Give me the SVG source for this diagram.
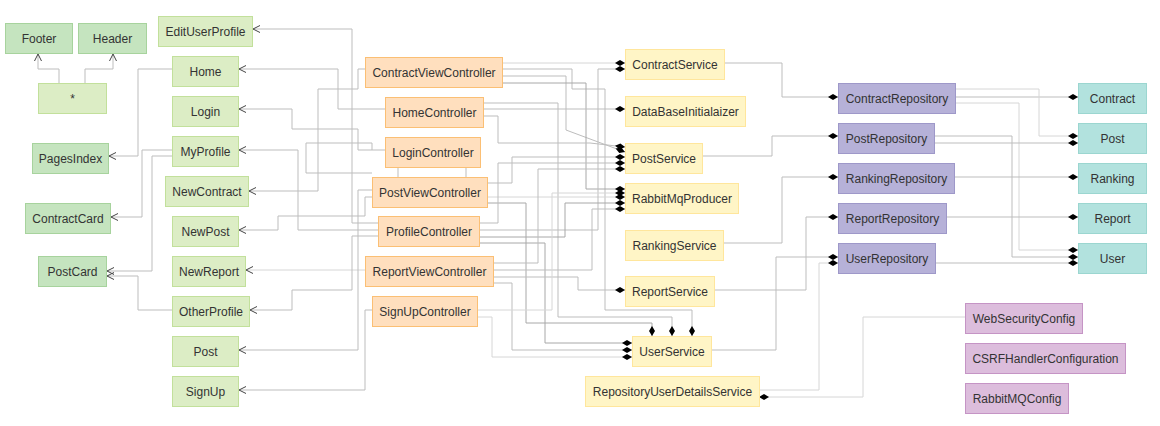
<svg xmlns="http://www.w3.org/2000/svg" width="1160" height="426" viewBox="0 0 1160 426">
<style>
text{font-family:"Liberation Sans",Arial,sans-serif;font-size:12px;fill:#333;text-anchor:middle}
.g2{fill:#c5e4bf;stroke:#a7d39d}
.g1{fill:#dcedc5;stroke:#c2e09b}
.or{fill:#ffdfbe;stroke:#fbbf74}
.ye{fill:#fff5c6;stroke:#ffe69c}
.pu{fill:#b6b1d8;stroke:#9e98c9}
.te{fill:#b2e2de;stroke:#9bd6d0}
.pi{fill:#dcbddc;stroke:#c594c5}
#connectors path{fill:none;stroke:#bdbdbd;stroke-width:1}
#connectors path.lt{stroke:#d6d6d6}
#connectors path.dk{stroke:#a8a8a8}
.a{marker-end:url(#arr)}
.d{marker-end:url(#dia)}
</style>
<defs>
<marker id="dia" markerWidth="10" markerHeight="6" refX="10" refY="3" orient="auto" markerUnits="userSpaceOnUse" overflow="visible"><path d="M0,3 L5,0 L10,3 L5,6 Z" fill="#000"/></marker>
<marker id="arr" markerWidth="8" markerHeight="8" refX="7" refY="4" orient="auto" markerUnits="userSpaceOnUse" overflow="visible"><path d="M0,0.5 L7,4 L0,7.5" fill="none" stroke="#444" stroke-width="1"/></marker>
</defs>
<rect width="1160" height="426" fill="#fff"/>
<g id="connectors">
<path class="a" d="M59,83 V69 H38 V54"/>
<path class="a" d="M85,83 V69 H113 V54"/>
<path class="a" d="M172,69 H138 V156 H109"/>
<path class="a" d="M172,150 H142 V217 H111"/>
<path class="a" d="M172,156 H152 V271 H107"/>
<path class="a" d="M172,310 H138 V276 H107"/>
<path class="a" d="M378,223 H352 V29 H253"/>
<path class="a" d="M385,109 H338 V69 H239"/>
<path class="a" d="M385,150 H358 V129 H292 V109 H239"/>
<path class="a" d="M378,230 H298 V150 H239"/>
<path class="a" d="M365,69 H358 V89 H318 V191 H249"/>
<path class="a" d="M372,197 H365 V216 H278 V230 H239"/>
<path class="a lt" d="M365,270 H246"/>
<path class="a" d="M378,236 H352 V290 H292 V310 H250"/>
<path class="a" d="M372,190 H358 V350 H239"/>
<path class="a" d="M372,310 H365 V390 H239"/>
<path d="M372,150 V143 H306 V173 H372"/>
<path d="M398,167 V177 M466,167 V177"/>
<path class="d lt" d="M502,63 H625"/>
<path class="d" d="M502,69 H572 V89 H605 V310 H692 V336"/>
<path class="d" d="M502,76 H566 V130 L625,152"/>
<path class="d dk" d="M502,83 H586 V189 H625"/>
<path class="d" d="M483,103 H558 V317 H672 V336"/>
<path class="d" d="M483,109 H625"/>
<path class="d" d="M483,116 H498 V143 H590 L625,147"/>
<path class="d" d="M487,183 H512 V157 H625"/>
<path class="d lt" d="M487,197 H625"/>
<path class="d dk" d="M487,203 H526 V323 H652 V336"/>
<path class="d" d="M479,223 H498 V163 H625"/>
<path class="d" d="M479,230 H598 V69 H625"/>
<path class="d dk" d="M479,237 H565 V203 H625"/>
<path class="d dk" d="M479,243 H545 V343 H632"/>
<path class="d" d="M493,263 H538 V169 H625"/>
<path class="d" d="M493,270 H592 V209 H625"/>
<path class="d" d="M493,277 H578 V290 H625"/>
<path class="d" d="M493,283 H512 V350 H632"/>
<path class="d lt" d="M477,310 H552 V193 H625"/>
<path class="d lt" d="M477,317 H492 V357 H632"/>
<path class="d" d="M724,63 H782 V97 H838"/>
<path class="d" d="M702,156 H772 V136 H838"/>
<path class="d" d="M723,243 H782 V177 H838"/>
<path class="d" d="M714,290 H806 V217 H838"/>
<path class="d" d="M711,350 H776 V257 H838"/>
<path class="d lt" d="M759,390 H819 V263 H838"/>
<path class="d lt" d="M965,317 H863 V397 H759"/>
<path class="d" d="M955,97 H1078"/>
<path class="d lt" d="M955,89 H1039 V136 H1078"/>
<path class="d lt" d="M955,103 H1019 V250 H1078"/>
<path class="d" d="M934,143 H1078"/>
<path class="d" d="M934,136 H1012 V257 H1078"/>
<path class="d" d="M954,177 H1078"/>
<path class="d" d="M946,217 H1078"/>
<path class="d" d="M935,263 H1078"/>
</g>
<g id="Footer"><rect class="g2" x="5.5" y="23.5" width="67" height="30"/><text x="39" y="42.5">Footer</text></g>
<g id="Header"><rect class="g2" x="78.5" y="23.5" width="68" height="30"/><text x="112.5" y="42.5">Header</text></g>
<g id="Star"><rect class="g1" x="38.5" y="83.5" width="68" height="30"/><text x="72.5" y="102.5">*</text></g>
<g id="PagesIndex"><rect class="g2" x="32.5" y="143.5" width="76" height="30"/><text x="70.5" y="162.5">PagesIndex</text></g>
<g id="ContractCard"><rect class="g2" x="25.5" y="203.5" width="85" height="30"/><text x="68" y="222.5">ContractCard</text></g>
<g id="PostCard"><rect class="g2" x="38.5" y="256.5" width="68" height="30"/><text x="72.5" y="275.5">PostCard</text></g>
<g id="EditUserProfile"><rect class="g1" x="158.5" y="16.5" width="94" height="30"/><text x="205.5" y="35.5">EditUserProfile</text></g>
<g id="Home"><rect class="g1" x="172.5" y="56.5" width="66" height="30"/><text x="205.5" y="75.5">Home</text></g>
<g id="Login"><rect class="g1" x="172.5" y="96.5" width="66" height="30"/><text x="205.5" y="115.5">Login</text></g>
<g id="MyProfile"><rect class="g1" x="172.5" y="136.5" width="66" height="30"/><text x="205.5" y="155.5">MyProfile</text></g>
<g id="NewContract"><rect class="g1" x="165.5" y="176.5" width="83" height="30"/><text x="207" y="195.5">NewContract</text></g>
<g id="NewPost"><rect class="g1" x="172.5" y="216.5" width="66" height="30"/><text x="205.5" y="235.5">NewPost</text></g>
<g id="NewReport"><rect class="g1" x="172.5" y="256.5" width="73" height="30"/><text x="209" y="275.5">NewReport</text></g>
<g id="OtherProfile"><rect class="g1" x="172.5" y="296.5" width="77" height="30"/><text x="211" y="315.5">OtherProfile</text></g>
<g id="PostPage"><rect class="g1" x="172.5" y="336.5" width="66" height="30"/><text x="205.5" y="355.5">Post</text></g>
<g id="SignUp"><rect class="g1" x="172.5" y="376.5" width="66" height="30"/><text x="205.5" y="395.5">SignUp</text></g>
<g id="ContractViewController"><rect class="or" x="365.5" y="57.5" width="137" height="30"/><text x="434" y="76.5">ContractViewController</text></g>
<g id="HomeController"><rect class="or" x="385.5" y="97.5" width="98" height="30"/><text x="434.5" y="116.5">HomeController</text></g>
<g id="LoginController"><rect class="or" x="385.5" y="137.5" width="95" height="30"/><text x="433" y="156.5">LoginController</text></g>
<g id="PostViewController"><rect class="or" x="372.5" y="177.5" width="115" height="30"/><text x="430" y="196.5">PostViewController</text></g>
<g id="ProfileController"><rect class="or" x="378.5" y="216.5" width="101" height="30"/><text x="429" y="235.5">ProfileController</text></g>
<g id="ReportViewController"><rect class="or" x="365.5" y="256.5" width="128" height="30"/><text x="429.5" y="275.5">ReportViewController</text></g>
<g id="SignUpController"><rect class="or" x="372.5" y="296.5" width="105" height="30"/><text x="425" y="315.5">SignUpController</text></g>
<g id="ContractService"><rect class="ye" x="625.5" y="49.5" width="99" height="30"/><text x="675" y="68.5">ContractService</text></g>
<g id="DataBaseInitialaizer"><rect class="ye" x="625.5" y="96.5" width="120" height="30"/><text x="685.5" y="115.5">DataBaseInitialaizer</text></g>
<g id="PostService"><rect class="ye" x="625.5" y="143.5" width="77" height="30"/><text x="664" y="162.5">PostService</text></g>
<g id="RabbitMqProducer"><rect class="ye" x="625.5" y="183.5" width="113" height="30"/><text x="682" y="202.5">RabbitMqProducer</text></g>
<g id="RankingService"><rect class="ye" x="625.5" y="230.5" width="98" height="30"/><text x="674.5" y="249.5">RankingService</text></g>
<g id="ReportService"><rect class="ye" x="625.5" y="276.5" width="89" height="30"/><text x="670" y="295.5">ReportService</text></g>
<g id="UserService"><rect class="ye" x="632.5" y="336.5" width="79" height="30"/><text x="672" y="355.5">UserService</text></g>
<g id="RepositoryUserDetailsService"><rect class="ye" x="585.5" y="376.5" width="174" height="30"/><text x="672.5" y="395.5">RepositoryUserDetailsService</text></g>
<g id="ContractRepository"><rect class="pu" x="838.5" y="83.5" width="117" height="30"/><text x="897" y="102.5">ContractRepository</text></g>
<g id="PostRepository"><rect class="pu" x="838.5" y="123.5" width="96" height="30"/><text x="886.5" y="142.5">PostRepository</text></g>
<g id="RankingRepository"><rect class="pu" x="838.5" y="163.5" width="116" height="30"/><text x="896.5" y="182.5">RankingRepository</text></g>
<g id="ReportRepository"><rect class="pu" x="838.5" y="203.5" width="108" height="30"/><text x="892.5" y="222.5">ReportRepository</text></g>
<g id="UserRepository"><rect class="pu" x="838.5" y="243.5" width="97" height="30"/><text x="887" y="262.5">UserRepository</text></g>
<g id="Contract"><rect class="te" x="1078.5" y="83.5" width="68" height="30"/><text x="1112.5" y="102.5">Contract</text></g>
<g id="Post"><rect class="te" x="1078.5" y="123.5" width="68" height="30"/><text x="1112.5" y="142.5">Post</text></g>
<g id="Ranking"><rect class="te" x="1078.5" y="163.5" width="68" height="30"/><text x="1112.5" y="182.5">Ranking</text></g>
<g id="Report"><rect class="te" x="1078.5" y="203.5" width="68" height="30"/><text x="1112.5" y="222.5">Report</text></g>
<g id="User"><rect class="te" x="1078.5" y="243.5" width="68" height="30"/><text x="1112.5" y="262.5">User</text></g>
<g id="WebSecurityConfig"><rect class="pi" x="965.5" y="303.5" width="117" height="30"/><text x="1024" y="322.5">WebSecurityConfig</text></g>
<g id="CSRFHandlerConfiguration"><rect class="pi" x="965.5" y="343.5" width="160" height="30"/><text x="1045.5" y="362.5">CSRFHandlerConfiguration</text></g>
<g id="RabbitMQConfig"><rect class="pi" x="965.5" y="383.5" width="103" height="30"/><text x="1017" y="402.5">RabbitMQConfig</text></g>
</svg>
